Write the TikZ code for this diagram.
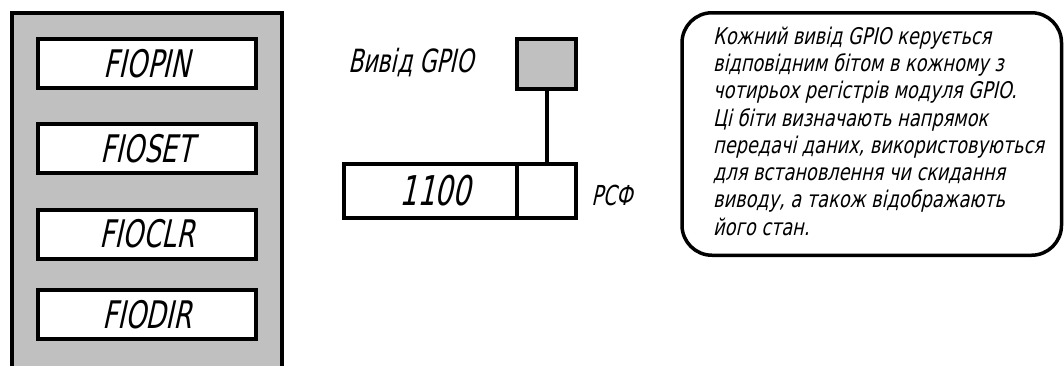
\documentclass[tikz,border=0pt]{standalone}
\usepackage{fontspec}
\newfontfamily\gost{DejaVu Sans}[FakeStretch=0.69, FakeSlant=0.22]
\newfontfamily\gostp{DejaVu Sans}[FakeStretch=0.77, FakeSlant=0.22]
\definecolor{panelgray}{HTML}{C0C0C0}
\begin{document}
\begin{tikzpicture}[x=1pt,y=-1pt,
  regbox/.style={draw, line width=4pt, fill=white, minimum width=218pt, minimum height=49pt, inner sep=0pt, font=\gost\fontsize{38}{42}\selectfont},
  thick4/.style={line width=4pt},
  lbl/.style={inner sep=0pt}
]
\useasboundingbox (0,0) rectangle (1064,365);
% left panel
\fill[panelgray] (12,13) rectangle (282,370);
\draw[thick4] (12,370) -- (12,13) -- (282,13) -- (282,370);
\node[regbox] (pin) at (147,63.5) {FIOPIN};
\node[regbox] (set) at (147,148.5) {FIOSET};
\node[regbox] (clr) at (147,234) {FIOCLR};
\node[regbox] (dir) at (147,314.5) {FIODIR};
% GPIO pin
\node[lbl, font=\gost\fontsize{32}{35}\selectfont] (pinlbl) at (411,63) {Вивід GPIO};
\node[draw, line width=4pt, fill=panelgray, minimum width=59pt, minimum height=50pt, inner sep=0pt] (gpio) at (546.5,64) {};
\node[draw, thick4, minimum width=232pt, minimum height=54pt, inner sep=0pt] (reg) at (460,191) {};
\coordinate (div) at (517,191);
\draw[thick4] (div |- reg.north) -- (div |- reg.south);
\node[lbl, font=\gost\fontsize{41}{44}\selectfont] (val) at (435,191) {1100};
\node[lbl, font=\gost\fontsize{27.5}{30}\selectfont] (rsf) at (612,195) {РСФ};
\draw[thick4] (gpio.south) -- (gpio.south |- reg.north);
% note
\node[draw, line width=3.5pt, rounded corners=30pt, minimum width=379.5pt, minimum height=242.5pt, inner sep=0pt] (note) at (871.75,134) {};
\node[lbl, anchor=north west, align=left, font=\gostp\fontsize{23}{27.3}\selectfont] (notetxt) at (713,26.5) {Кожний вивід GPIO керується\\відповідним бітом в кожному з\\чотирьох регістрів модуля GPIO.\\Ці біти визначають напрямок\\передачі даних, використовуються\\для встановлення чи скидання\\виводу, а також відображають\\його стан.};
\end{tikzpicture}
\end{document}
